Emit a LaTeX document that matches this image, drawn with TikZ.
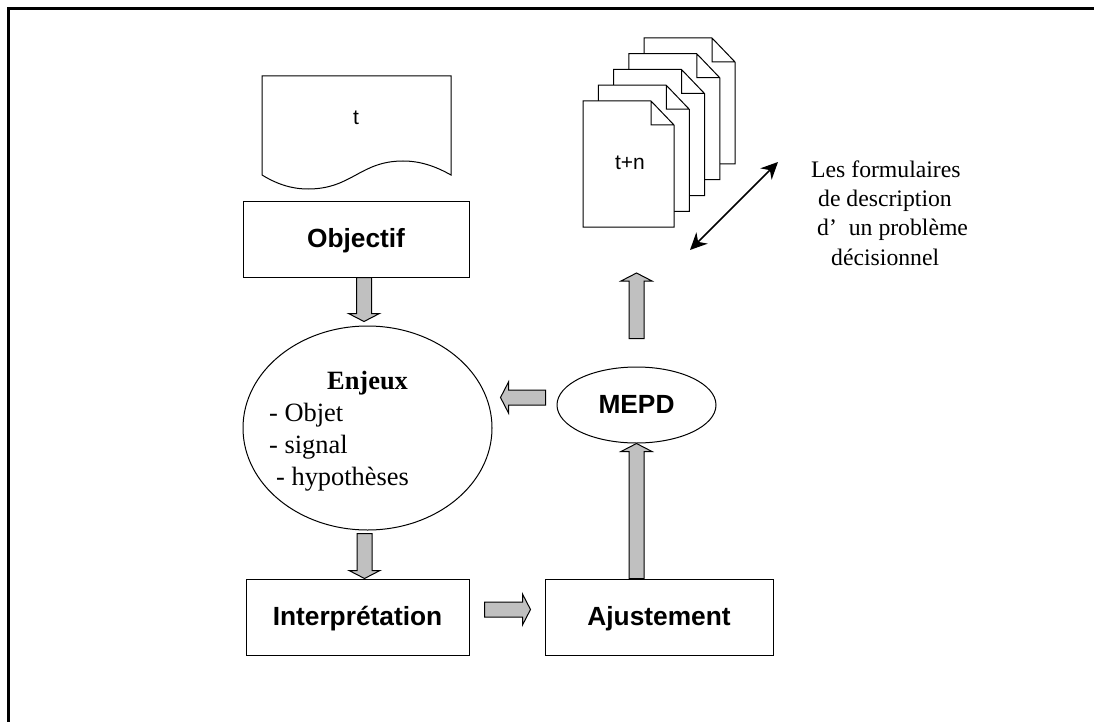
\documentclass[tikz,border=0pt]{standalone}
\usepackage{fontspec}
\setmainfont{Liberation Serif}
\setsansfont{Liberation Sans}
\usetikzlibrary{arrows.meta,calc,shapes.geometric}
\definecolor{arrowgray}{HTML}{C0C0C0}
\tikzset{
  boxnode/.style={draw, line width=1pt, minimum width=#1, minimum height=76pt, inner sep=0pt, text height=16pt, text depth=0pt, font=\sffamily\bfseries\fontsize{26.3}{30}\selectfont},
  ovalnode/.style={draw, ellipse, line width=1pt, inner sep=0pt},
  arrowbox/.style={draw, line width=1pt, fill=arrowgray, line join=miter},
  pagebox/.style={draw, line width=1pt, fill=white},
}
\newcommand{\blockarrow}[2]{
  \path (#1) coordinate (ba) (#2) coordinate (bb);
  \path ($(bb)!8pt!(ba)$) coordinate (bh);
  \draw[arrowbox] ($(ba)!7.5pt!90:(bb)$) -- ($(bh)!7.5pt!90:(bb)$) -- ($(bh)!15.5pt!90:(bb)$) -- (bb) -- ($(bh)!15.5pt!-90:(bb)$) -- ($(bh)!7.5pt!-90:(bb)$) -- ($(ba)!7.5pt!-90:(bb)$) -- cycle;
}
\begin{document}
\begin{tikzpicture}[x=1pt, y=-1pt]
            \useasboundingbox (0,0) rectangle (1094,722);
            \draw[line width=3.5pt] (8.5,722) -- (8.5,8.5) -- (1094,8.5);
            \draw[line width=1pt] (262,175) -- (262,76) -- (451,76) -- (451,175) .. controls (435,166) and (420,161) .. (403,161) .. controls (360,161) and (352,189) .. (308,189) .. controls (290,189) and (275,183) .. (262,175) -- cycle;
            \node[font=\sffamily\fontsize{21}{24}\selectfont, anchor=base, inner sep=0pt] (tdoc) at (356,125) {t};
            \foreach \i in {4,3,2,1,0} {
              \draw[pagebox, shift={(15.25*\i,-15.75*\i)}] (583,101) -- (651,101) -- (674,125) -- (674,227) -- (583,227) -- cycle (651,101) -- (651,125) -- (674,125);
            }
            \coordinate (pagefront) at (628.5,227);
            \node[font=\sffamily\fontsize{21}{24}\selectfont, anchor=base, inner sep=0pt] (tpage) at (630,170) {t+n};
            \node[boxnode=226pt] (objectif) at (356,239) {Objectif};
            \node[boxnode=223pt] (interpretation) at (357.5,617) {Interprétation};
            \node[boxnode=228pt] (ajustement) at (659,617) {Ajustement};
            \node[ovalnode, minimum width=249pt, minimum height=204pt] (enjeux) at (367.5,428) {};
            \node[anchor=north west, inner sep=0pt, align=left, font=\fontsize{26.4}{32}\selectfont] (enjeuxtext) at (269,370.5) {\hspace*{58pt}\textbf{Enjeux}\\- Objet\\- signal\\\hspace*{7pt}- hypothèses};
            \node[ovalnode, minimum width=159pt, minimum height=76pt, text height=16pt, text depth=0pt, font=\sffamily\bfseries\fontsize{26.3}{30}\selectfont] (mepd) at (636.5,405) {MEPD};
            \node[anchor=north west, inner sep=0pt, align=left, font=\fontsize{23.7}{29.3}\selectfont] (formulaires) at (811,160.5) {Les formulaires\\\hspace*{7pt}de description\\\hspace*{6pt}d'\hspace*{6pt} un problème\\\hspace*{20pt}décisionnel};
            \coordinate (dblup) at (778,162);
            \coordinate (dbldown) at (690,250);
            \draw[{Stealth[length=17pt,width=16pt]}-{Stealth[length=17pt,width=16pt]}, line width=1.5pt] (dbldown) -- (dblup);
            \blockarrow{$(objectif.south)+(8,0)$}{$(enjeux.north)+(-3.5,-4)$}
            \blockarrow{$(enjeux.south)+(-3,3)$}{$(interpretation.north)+(7,0)$}
            \blockarrow{$(interpretation.east)+(15,-7.5)$}{$(ajustement.west)+(-14,-7.5)$}
            \blockarrow{$(ajustement.north)+(-22.5,0)$}{mepd.south}
            \blockarrow{$(mepd.west)+(-11,-7.5)$}{$(enjeux.east)+(8,-30.5)$}
            \blockarrow{$(mepd.north)+(0,-28)$}{$(pagefront)+(8,46)$}
          \end{tikzpicture}
\end{document}
